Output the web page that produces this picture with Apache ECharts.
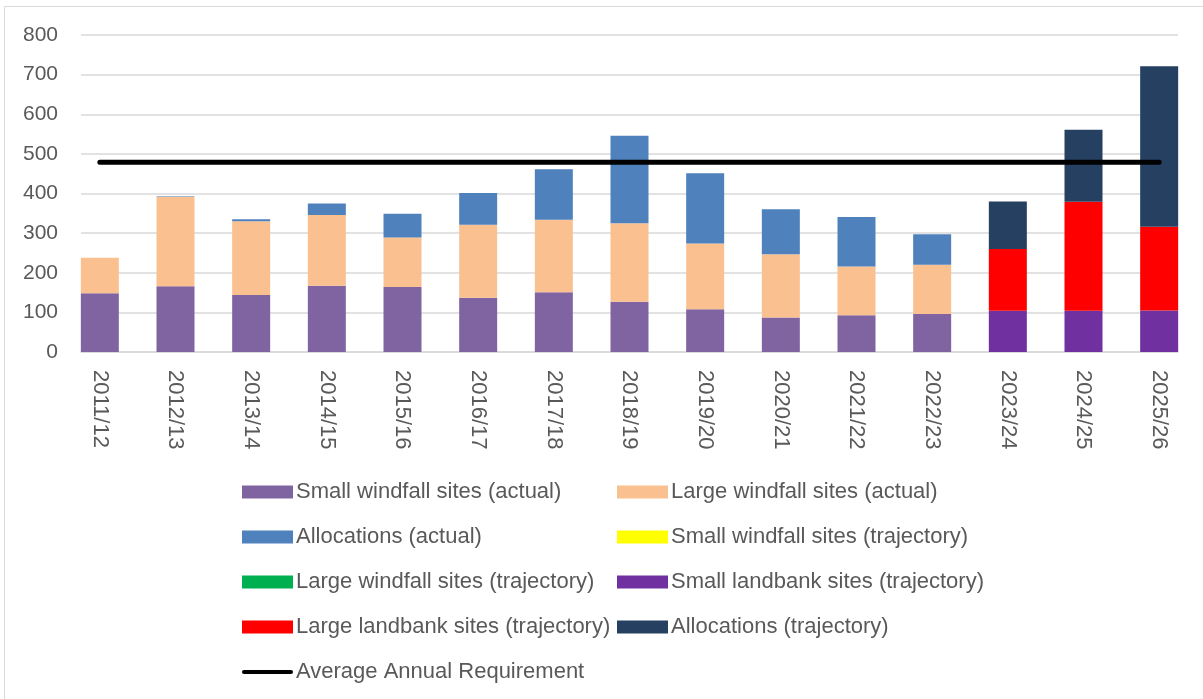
<!DOCTYPE html>
<html>
<head>
<meta charset="utf-8">
<script src="https://cdn.jsdelivr.net/npm/echarts@6/dist/echarts.min.js"></script>
<style>
  html, body { margin: 0; padding: 0; background: #fff; }
  #chart { width: 1203px; height: 699px; }
</style>
</head>
<body>
<div id="chart"></div>
<script>
const years = ['2011/12', '2012/13', '2013/14', '2014/15', '2015/16', '2016/17', '2017/18', '2018/19',
  '2019/20', '2020/21', '2021/22', '2022/23', '2023/24', '2024/25', '2025/26']

// actual completions
const smallWindfallActual = [148, 166, 144, 167, 164, 137, 151, 127, 108, 87, 93, 96, null, null, null]
const largeWindfallActual = [90, 226, 186, 179, 125, 184, 183, 198, 166, 160, 123, 124, null, null, null]
const allocationsActual = [null, 1, 5, 29, 60, 80, 127, 221, 177, 113, 125, 77, null, null, null]

// trajectory
const smallWindfallTraj = [null, null, null, null, null, null, null, null, null, null, null, null, null, null, null]
const largeWindfallTraj = [null, null, null, null, null, null, null, null, null, null, null, null, null, null, null]
const smallLandbankTraj = [null, null, null, null, null, null, null, null, null, null, null, null, 104, 104, 105]
const largeLandbankTraj = [null, null, null, null, null, null, null, null, null, null, null, null, 156, 275, 211]
const allocationsTraj = [null, null, null, null, null, null, null, null, null, null, null, null, 120, 182, 405]

const avgRequirement = [479, 479, 479, 479, 479, 479, 479, 479, 479, 479, 479, 479, 479, 479, 479]

const yTicks = { min: 0, max: 800, interval: 100 }

const textColor = '#595959'
const gridColor = '#D9D9D9'
const font = 'Liberation Sans'

const bar = (name, data, color) => ({
  name: name,
  type: 'bar',
  stack: 'total',
  barWidth: 38,
  data: data,
  itemStyle: { color: color }
})

const legendText = { color: textColor, fontSize: 22, fontFamily: font, padding: [0, 0, 0, -2] }

let option = {
  animation: false,
  textStyle: { fontFamily: font },
  graphic: [{
    type: 'rect',
    shape: { x: 4.5, y: 6.5, width: 1300, height: 800 },
    style: { fill: 'none', stroke: gridColor, lineWidth: 1 },
    silent: true
  }],
  // grid 0 holds the bars, grid 1 only draws the gridlines (narrower, like the excel plot area)
  grid: [
    { left: 62, right: 6, top: 35, bottom: 347 },
    { left: 81, right: 25, top: 35, bottom: 347 }
  ],
  legend: [
    {
      orient: 'vertical',
      left: 237,
      top: 476,
      icon: 'rect',
      itemWidth: 51,
      itemHeight: 13,
      itemGap: 23,
      textStyle: legendText,
      data: ['Small windfall sites (actual)', 'Allocations (actual)', 'Large windfall sites (trajectory)',
        'Large landbank sites (trajectory)',
        { name: 'Average Annual Requirement', icon: 'path://M2,0 H49 A2,2 0 0 1 49,4 H2 A2,2 0 0 1 2,0 Z' }]
    },
    {
      orient: 'vertical',
      left: 612,
      top: 476,
      icon: 'rect',
      itemWidth: 51,
      itemHeight: 13,
      itemGap: 23,
      textStyle: legendText,
      data: ['Large windfall sites (actual)', 'Small windfall sites (trajectory)', 'Small landbank sites (trajectory)',
        'Allocations (trajectory)']
    }
  ],
  xAxis: [
    {
      type: 'category',
      gridIndex: 0,
      data: years,
      axisLine: { show: false },
      axisTick: { show: false },
      axisLabel: {
        rotate: -90,
        margin: 18,
        color: textColor,
        fontSize: 22,
        fontFamily: font
      }
    },
    {
      type: 'category',
      gridIndex: 1,
      data: years,
      axisLine: { lineStyle: { color: gridColor, width: 1.5 } },
      axisTick: { show: false },
      axisLabel: { show: false }
    }
  ],
  yAxis: [
    {
      type: 'value',
      gridIndex: 0,
      min: yTicks.min,
      max: yTicks.max,
      interval: yTicks.interval,
      axisLine: { show: false },
      axisTick: { show: false },
      splitLine: { show: false },
      axisLabel: {
        margin: 4,
        color: textColor,
        fontSize: 21,
        fontFamily: font
      }
    },
    {
      type: 'value',
      gridIndex: 1,
      min: yTicks.min,
      max: yTicks.max,
      interval: yTicks.interval,
      axisLine: { show: false },
      axisTick: { show: false },
      axisLabel: { show: false },
      splitLine: { lineStyle: { color: gridColor, width: 1.5 } }
    }
  ],
  series: [
    bar('Small windfall sites (actual)', smallWindfallActual, '#8064A2'),
    bar('Large windfall sites (actual)', largeWindfallActual, '#FAC090'),
    bar('Allocations (actual)', allocationsActual, '#4F81BD'),
    bar('Small windfall sites (trajectory)', smallWindfallTraj, '#FFFF00'),
    bar('Large windfall sites (trajectory)', largeWindfallTraj, '#00B050'),
    bar('Small landbank sites (trajectory)', smallLandbankTraj, '#7030A0'),
    bar('Large landbank sites (trajectory)', largeLandbankTraj, '#FF0000'),
    bar('Allocations (trajectory)', allocationsTraj, '#254061'),
    {
      name: 'Average Annual Requirement',
      type: 'line',
      data: avgRequirement,
      symbol: 'none',
      z: 5,
      itemStyle: { color: '#000000' },
      lineStyle: { color: '#000000', width: 5, cap: 'round' }
    }
  ]
}

const myChart = echarts.init(document.getElementById('chart'))
myChart.setOption(option)
</script>
</body>
</html>
